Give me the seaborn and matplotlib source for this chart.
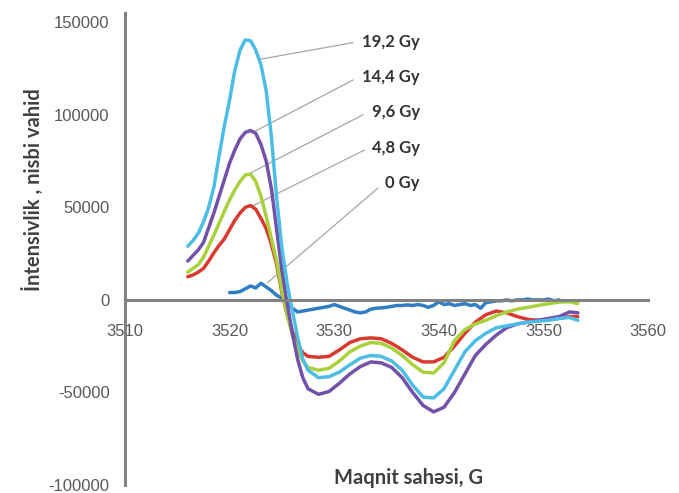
import numpy as np
import pandas as pd
import matplotlib
matplotlib.use("Agg")
import matplotlib.pyplot as plt
import seaborn as sns

# ---- data ----
x_main = [3516, 3516.5, 3517, 3517.5, 3518, 3518.5, 3519, 3519.5, 3520, 3520.5, 3521, 3521.5,
          3522, 3522.5, 3523, 3523.5, 3524, 3524.5, 3525, 3525.5, 3526, 3526.5, 3527, 3527.5,
          3528.5, 3529.5, 3530.5, 3531.5, 3532.5, 3533.5, 3534.5, 3535.5,
          3536.5, 3537.5, 3538.5, 3539.5, 3540.5, 3541.5, 3542.5, 3543.5, 3544.5, 3545.5,
          3546.5, 3547.5, 3548.5, 3549.5, 3550.5, 3551.5, 3552.5, 3553.3]
y_192 = [29000, 32000, 36000, 42000, 50000, 61000, 78000, 94000, 108000, 124000, 135000, 140500,
         140000, 135000, 127000, 113000, 88000, 55000, 28000, 9000, -6000, -20000, -32000, -38000,
         -42000, -41500, -39000, -35000, -31500, -30000, -30500, -33000,
         -38000, -46000, -52500, -53000, -48000, -38000, -28000, -22000, -18000, -15000,
         -14000, -13000, -12000, -11500, -11000, -10000, -9500, -11000]
y_144 = [21000, 24000, 27000, 31000, 39000, 47000, 56000, 65000, 74000, 81000, 87000, 90500,
         91500, 90000, 84000, 75000, 60000, 38000, 16000, -2000, -18000, -32000, -42000, -48000,
         -51000, -49500, -45000, -40000, -36000, -33500, -34000, -36500,
         -42000, -50000, -57000, -60500, -58000, -50000, -40000, -30000, -24000, -19000,
         -15000, -13000, -12000, -11000, -10000, -9000, -6500, -7000]
y_96 = [15000, 17000, 19000, 23000, 29000, 35000, 41500, 48000, 54000, 59500, 64000, 67500,
        68000, 64000, 56000, 45000, 33000, 21000, 5000, -8000, -19000, -27000, -33000, -36500,
        -38000, -37000, -33000, -28000, -25000, -23000, -23500, -26000,
        -30000, -35000, -39000, -39500, -34000, -22000, -16000, -13000, -11000, -8500,
        -6500, -5000, -4000, -3000, -2000, -1200, -1000, -2000]
y_48 = [12500, 13500, 15000, 17000, 21000, 25500, 29500, 33000, 38000, 43000, 47000, 50000,
        51000, 49000, 44000, 38500, 30000, 19000, 4000, -8000, -17000, -24000, -28500, -30500,
        -31000, -30500, -27000, -23000, -21000, -20500, -21000, -23500,
        -27000, -31000, -33500, -33500, -31000, -25000, -18000, -12000, -8000, -6000,
        -7000, -9000, -10500, -11000, -10500, -10000, -9000, -9000]
x_0 = [3520, 3520.5, 3521, 3521.5, 3522, 3522.5, 3523, 3523.5, 3524, 3524.5, 3525, 3525.5,
       3526, 3526.5, 3527, 3527.5, 3528, 3528.5, 3529, 3529.5, 3530, 3530.5, 3531, 3531.5,
       3532, 3532.5, 3533, 3533.5, 3534, 3534.5, 3535, 3535.5, 3536, 3536.5, 3537, 3537.5,
       3538, 3538.5, 3539, 3539.5, 3540, 3540.5, 3541, 3541.5, 3542, 3542.5, 3543, 3543.5,
       3544, 3544.5, 3545, 3545.5, 3546, 3546.5, 3547, 3547.5, 3548, 3548.5, 3549, 3549.5,
       3550, 3550.5, 3551, 3551.5]
y_0 = [4000, 4000, 4500, 6000, 7500, 6500, 9000, 7000, 5000, 2500, 1000, -2000,
       -4500, -6500, -6000, -5500, -5000, -4500, -4000, -3500, -2500, -3500, -4500, -5500,
       -6500, -7000, -6500, -5000, -4500, -4300, -4000, -3500, -3000, -3000, -2700, -3000,
       -2500, -3000, -4000, -3000, -1000, -2500, -2000, -3000, -2500, -2000, -3000, -2500,
       -4500, -1500, -1000, -500, -500, 0, -500, 0, 0, 500, 0, 0,
       0, 500, -500, 0]

labels = ["0 Gy", "4,8 Gy", "9,6 Gy", "14,4 Gy", "19,2 Gy"]
colors = ["#2F7EC4", "#D93A2F", "#A9D13C", "#7251A8", "#4DBDE6"]

frames = []
for lab, xs, ys in [("0 Gy", x_0, y_0), ("4,8 Gy", x_main, y_48), ("9,6 Gy", x_main, y_96),
                    ("14,4 Gy", x_main, y_144), ("19,2 Gy", x_main, y_192)]:
    frames.append(pd.DataFrame({"x": xs, "y": ys, "dose": lab}))
df = pd.concat(frames, ignore_index=True)

sns.set_style("white")
plt.rcParams['font.family'] = ['Liberation Sans', 'DejaVu Sans']

fig = plt.figure(figsize=(6.79, 4.93), dpi=100)
ax = fig.add_axes([0.1841, 0.0162, 0.9543 - 0.1841, 0.9736 - 0.0162])

sns.lineplot(data=df, x="x", y="y", hue="dose", hue_order=labels,
             palette=dict(zip(labels, colors)), sort=False, estimator=None,
             linewidth=2.5, legend=False, ax=ax)
ax.set_xlabel("")
ax.set_ylabel("")

ax.set_xlim(3510, 3560)
ax.set_ylim(-100000, 155000)
ax.set_xticks([3510, 3520, 3530, 3540, 3550, 3560])
ax.set_yticks([-100000, -50000, 0, 50000, 100000, 150000])
ax.set_xticklabels(["3510", "3520", "3530", "3540", "3550", "3560"])
ax.set_yticklabels(["-100000", "-50000", "0", "50000", "100000", "150000"])

axis_col = "#828282"
for s in ["top", "right"]:
    ax.spines[s].set_visible(False)
ax.spines["left"].set_position(("data", 3510))
ax.spines["bottom"].set_position(("data", 0))
for s in ["left", "bottom"]:
    ax.spines[s].set_color(axis_col)
    ax.spines[s].set_linewidth(2.2)
ax.tick_params(axis="both", direction="inout", length=12, width=2.0, color=axis_col,
               labelcolor="#595959", labelsize=12)
ax.tick_params(axis="x", pad=11)
ax.tick_params(axis="y", pad=5)
for t in ax.get_xticklines() + ax.get_yticklines():
    t.set_clip_on(False)

ax.text(3537.1, -96000, "Maqnit sahəsi, G", ha="center", va="center",
        fontsize=14.5, fontweight="bold", color="#404040", family="Lato")
fig.text(0.049, 0.615, "İntensivlik , nisbi vahid", rotation=90, ha="center",
         va="center", fontsize=14.5, fontweight="bold", color="#404040", family="Lato")

# annotations with leader lines
ann = [
    ("19,2 Gy", (3522.9, 130000), (3531.8, 139000), 139300),
    ("14,4 Gy", (3522.4, 91000), (3531.8, 118800), 120400),
    ("9,6 Gy", (3522.0, 68600), (3532.75, 100000), 101500),
    ("4,8 Gy", (3522.0, 50200), (3532.9, 81000), 82100),
    ("0 Gy", (3523.6, 9200), (3534.2, 60500), 63200),
]
for lab, p_curve, p_line, ytxt in ann:
    ax.plot([p_curve[0], p_line[0]], [p_curve[1], p_line[1]], color="#A6A6A6",
            linewidth=0.9, zorder=1)
    ax.text(3538.2, ytxt, lab, ha="right", va="center", fontsize=12,
            fontweight="bold", color="#333333", family="Lato")

fig.savefig("out.png", dpi=100, facecolor="white")
